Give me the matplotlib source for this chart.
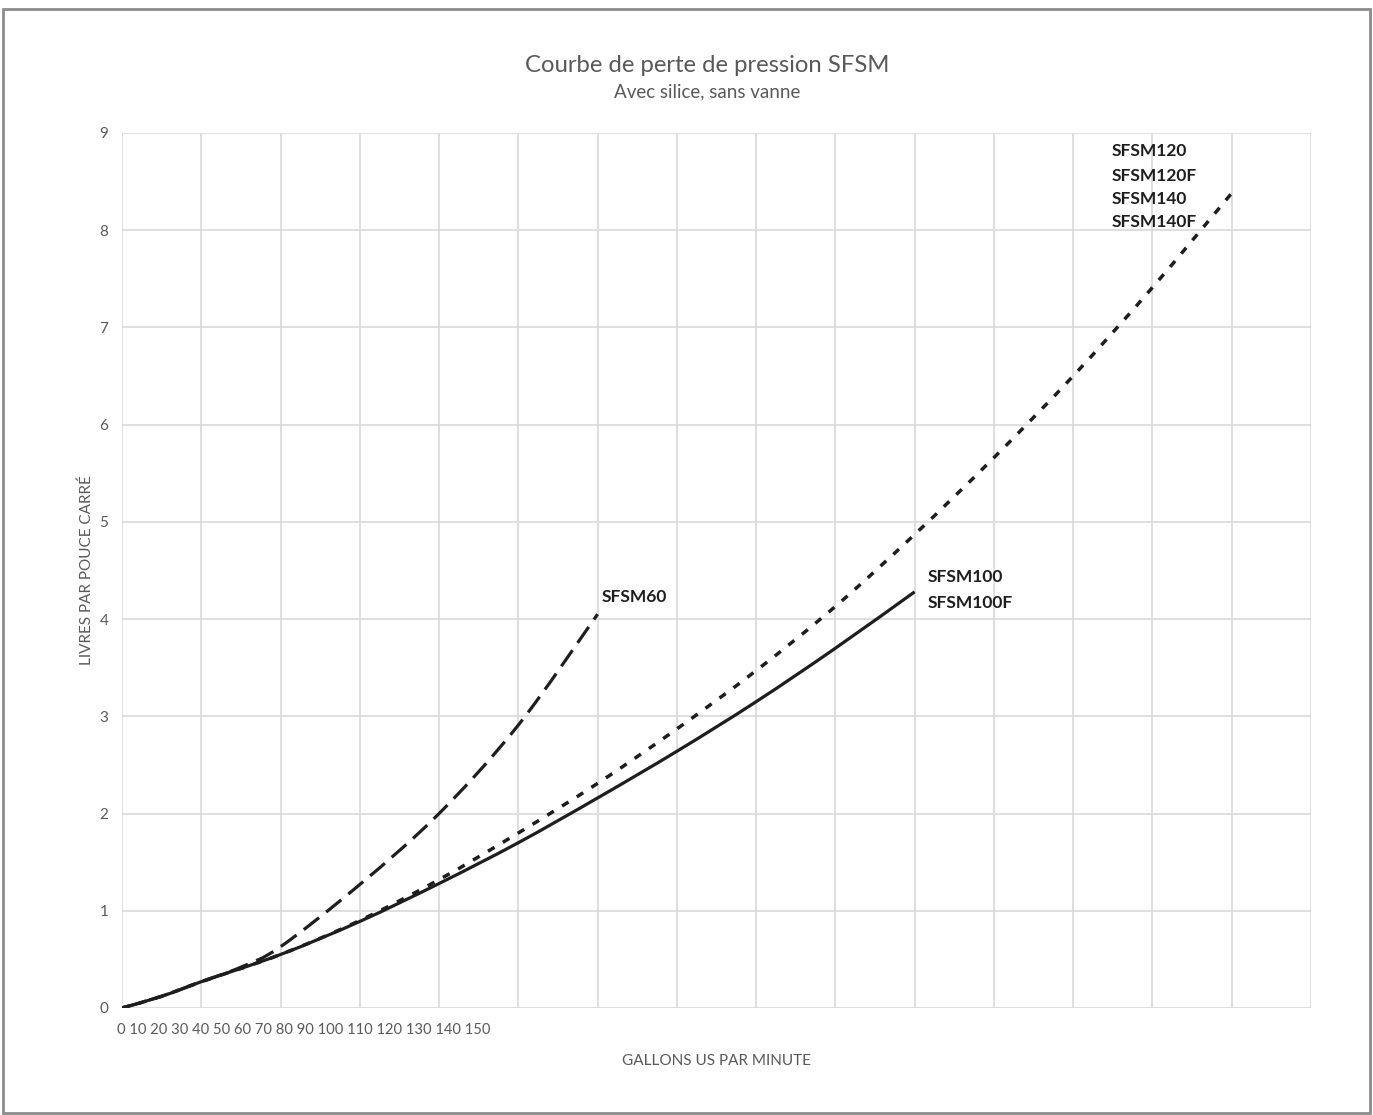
import matplotlib.pyplot as plt
import numpy as np
from matplotlib.patches import Rectangle, PathPatch
from matplotlib.path import Path

plt.rcParams['font.family'] = ['Lato', 'DejaVu Sans']
plt.rcParams['lines.scale_dashes'] = False

# lecture des courbes (gpm -> psi)
gpm_60 = [0, 5, 10, 15, 20, 30, 40, 50, 60]
psi_60 = [0, 0.12, 0.27, 0.42, 0.63, 1.27, 2.0, 2.91, 4.05]

gpm_100 = [0, 5, 10, 20, 30, 40, 50, 60, 70, 80, 90, 100]
psi_100 = [0, 0.12, 0.27, 0.55, 0.89, 1.28, 1.70, 2.16, 2.64, 3.15, 3.70, 4.28]

gpm_140 = [0, 5, 10, 20, 30, 40, 50, 60, 70, 80, 90, 100, 110, 120, 130, 140]
psi_140 = [0, 0.12, 0.27, 0.55, 0.9, 1.32, 1.80, 2.31, 2.87, 3.47, 4.13, 4.87, 5.66, 6.5, 7.41, 8.38]

x_labels = [str(v) for v in range(0, 151, 10)]
y_ticks = list(range(0, 10))

grey = '#595959'
ink = '#1e1e1e'


def smooth_line(ax, x, y, **kw):
    # courbe lissee type Excel (Catmull-Rom -> Bezier) passant par les points
    p = np.column_stack([x, y]).astype(float)
    ext = np.vstack([p[0], p, p[-1]])
    verts = [p[0]]
    codes = [Path.MOVETO]
    for i in range(1, len(ext) - 2):
        p0, p1, p2, p3 = ext[i - 1], ext[i], ext[i + 1], ext[i + 2]
        verts += [p1 + (p2 - p0) / 6, p2 - (p3 - p1) / 6, p2]
        codes += [Path.CURVE4] * 3
    ax.add_patch(PathPatch(Path(verts, codes), fill=False, **kw))


fig = plt.figure(figsize=(13.73, 11.15), dpi=100)
fig.patches.append(Rectangle((0.002, 0.002), 0.996, 0.99, transform=fig.transFigure,
                             fill=False, edgecolor='#8c8c8c', linewidth=2))

ax = fig.add_axes([0.0889, 0.096, 0.8659, 0.7848])
ax.set_xlim(0, 150)
ax.set_ylim(0, 9)
ax.set_xticks(range(0, 151, 10))
ax.set_xticklabels([])
ax.set_yticks(y_ticks)
ax.tick_params(length=0, labelsize=11, labelcolor=grey, pad=10)
ax.grid(True, color='#d9d9d9', linewidth=1.2)
ax.set_axisbelow(True)
for s in ax.spines.values():
    s.set_visible(False)

smooth_line(ax, gpm_60, psi_60, edgecolor=ink, linewidth=2.3, linestyle=(0, (14, 6.5)),
            capstyle='butt')
smooth_line(ax, gpm_100, psi_100, edgecolor=ink, linewidth=2.3)
smooth_line(ax, gpm_140, psi_140, edgecolor=ink, linewidth=2.5, linestyle=(0, (5.5, 7)),
            capstyle='butt')

# libelles de l'axe x, tasses a gauche comme dans l'original
ax.text(-0.004, -0.025, ' '.join(x_labels), transform=ax.transAxes, ha='left', va='center',
        fontsize=10.6, color=grey)

lab = dict(fontsize=12.5, fontweight='bold', color=ink, ha='left', va='center')
ax.text(60.5, 4.23, 'SFSM60', **lab)
ax.text(101.7, 4.43, 'SFSM100', **lab)
ax.text(101.7, 4.17, 'SFSM100F', **lab)
for name, yy in zip(['SFSM120', 'SFSM120F', 'SFSM140', 'SFSM140F'], [8.81, 8.56, 8.32, 8.08]):
    ax.text(124.8, yy, name, **lab)

ax.set_xlabel('GALLONS US PAR MINUTE', fontsize=11, color=grey, labelpad=23)
ax.set_ylabel('LIVRES PAR POUCE CARRÉ', fontsize=11, color=grey, labelpad=4)

fig.text(0.515, 0.941, 'Courbe de perte de pression SFSM', ha='center', va='center',
         fontsize=17.2, color=grey)
fig.text(0.515, 0.918, 'Avec silice, sans vanne', ha='center', va='center',
         fontsize=13.5, color=grey)

fig.savefig('out.png', dpi=100)
